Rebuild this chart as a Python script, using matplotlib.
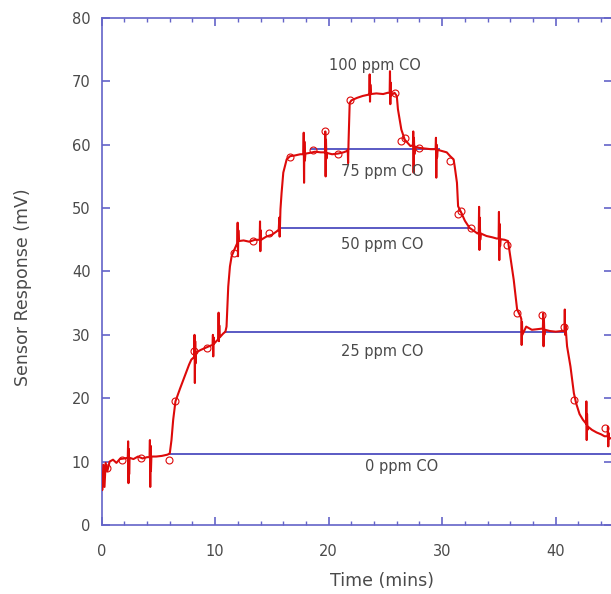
import matplotlib
matplotlib.use("Agg")
import matplotlib.pyplot as plt
from matplotlib.ticker import MultipleLocator

# sensor trace (time in minutes, response in mV)
trace_t = [
    0.0, 0.05, 0.15, 0.25, 0.35, 0.5, 0.7, 1.0, 1.3, 1.6, 2.0,
    2.30, 2.33, 2.36, 2.39, 2.42, 2.46, 2.8, 3.2, 3.6, 4.0,
    4.22, 4.25, 4.28, 4.31, 4.34, 4.38, 4.8, 5.3, 5.8, 6.0,
    6.15, 6.3, 6.5, 6.9, 7.3, 7.7, 7.9,
    8.15, 8.18, 8.21, 8.24, 8.27, 8.3, 8.7, 9.2, 9.6,
    9.77, 9.8, 9.83, 9.86, 9.9, 10.1,
    10.27, 10.3, 10.33, 10.36, 10.4, 10.7, 10.9,
    11.0, 11.15, 11.3, 11.45, 11.75,
    11.95, 11.98, 12.01, 12.04, 12.08, 12.5, 13.0, 13.5,
    13.92, 13.95, 13.98, 14.01, 14.05, 14.5, 15.0, 15.4,
    15.6, 15.65, 15.68, 15.75, 15.85, 16.0, 16.3, 16.6,
    17.0, 17.5, 17.77, 17.8, 17.83, 17.86, 17.9, 17.95, 18.3, 18.8, 19.3,
    19.67, 19.7, 19.73, 19.76, 19.8, 19.85, 20.3, 20.8, 21.3, 21.6,
    21.68, 21.71, 21.75, 21.85, 22.0, 22.5, 23.0, 23.5,
    23.58, 23.61, 23.64, 23.67, 23.72, 24.2, 24.8, 25.2,
    25.37, 25.4, 25.43, 25.46, 25.5, 25.8, 26.0,
    26.1, 26.4, 26.7, 27.2,
    27.42, 27.45, 27.48, 27.51, 27.55, 27.6, 28.0, 28.5, 29.0,
    29.42, 29.45, 29.48, 29.51, 29.55, 29.6, 30.0, 30.4, 30.7, 31.0,
    31.1, 31.3, 31.4, 31.7, 32.0, 32.4, 32.8, 33.1,
    33.22, 33.25, 33.28, 33.31, 33.35, 33.4, 33.9, 34.4, 34.8,
    34.97, 35.0, 35.03, 35.06, 35.1, 35.15, 35.5, 35.8,
    36.0, 36.3, 36.6, 36.9,
    36.97, 37.0, 37.03, 37.06, 37.4, 37.9, 38.4,
    38.87, 38.9, 38.93, 38.96, 39.0, 39.05, 39.5, 40.0, 40.5,
    40.77, 40.8, 40.83, 40.86,
    41.0, 41.3, 41.6, 41.8, 42.1, 42.4,
    42.67, 42.7, 42.73, 42.76, 42.8, 42.85, 43.2, 43.6, 44.0, 44.3,
    44.57, 44.6, 44.63, 44.66, 44.7, 45.0,
]
trace_mv = [
    8.0, 5.5, 9.5, 6.0, 9.8, 8.5, 10.0, 10.3, 9.8, 10.4, 10.5,
    10.6, 13.2, 6.6, 12.0, 8.0, 10.6, 10.4, 10.8, 10.5, 10.7,
    10.7, 13.4, 6.0, 12.5, 8.5, 10.8, 10.8, 10.9, 11.1, 11.3,
    13.4, 16.6, 19.5, 21.5, 23.4, 25.3, 26.1,
    26.5, 30.0, 22.4, 29.0, 25.5, 27.2, 27.6, 28.0, 28.3,
    28.4, 30.0, 26.6, 29.6, 28.6, 29.0,
    29.3, 33.5, 29.0, 31.5, 29.6, 30.2, 30.5,
    31.3, 37.6, 40.8, 42.4, 43.7,
    44.5, 47.7, 42.4, 46.5, 44.8, 44.9, 44.7, 45.0,
    45.0, 47.9, 43.2, 46.5, 45.0, 45.5, 45.8, 46.3,
    46.6, 48.5, 45.5, 49.8, 52.4, 55.6, 57.7, 58.2,
    58.3, 58.5, 58.5, 61.9, 54.0, 60.5, 57.5, 58.6, 58.7, 58.9, 58.8,
    58.8, 62.1, 55.0, 60.8, 57.8, 58.7, 58.5, 58.6, 58.8, 59.0,
    59.2, 57.1, 60.5, 66.6, 67.0, 67.4, 67.7, 67.9,
    68.0, 71.1, 66.8, 69.5, 68.0, 68.1, 68.0, 68.2,
    68.2, 71.6, 66.4, 69.8, 67.8, 68.2, 67.7,
    65.6, 62.4, 60.8, 59.8,
    59.9, 62.1, 55.6, 61.1, 58.5, 59.7, 59.5, 59.4, 59.3,
    59.3, 61.1, 54.8, 60.0, 58.0, 59.2, 59.0, 58.8, 58.2, 57.7,
    56.6, 54.0, 50.3, 49.2, 48.0, 46.9, 46.4, 46.0,
    46.0, 50.2, 43.4, 48.5, 45.0, 46.0, 45.6, 45.4, 45.2,
    45.2, 49.4, 41.8, 47.5, 44.0, 45.1, 45.0, 44.8,
    42.4, 38.7, 34.0, 32.9,
    32.5, 28.4, 32.0, 30.0, 31.3, 30.8, 30.9,
    31.0, 33.4, 28.2, 32.5, 30.0, 30.8, 30.6, 30.5, 30.6,
    30.6, 34.0, 30.0, 31.5,
    28.2, 25.0, 20.8, 19.2, 17.5, 16.6,
    16.0, 19.5, 13.4, 17.5, 15.0, 15.5, 15.0, 14.6, 14.3, 14.0,
    14.0, 15.5, 12.4, 14.5, 13.6, 13.8,
]

# open-circle sample markers on the trace
marker_t = [0.5, 1.8, 3.5, 5.9, 6.5, 8.1, 9.3, 11.7, 13.3, 14.7, 16.6, 18.6,
            19.7, 20.8, 21.9, 25.8, 26.4, 26.7, 28.0, 30.7, 31.4, 31.7, 32.5,
            35.7, 36.6, 38.8, 40.7, 41.6, 44.3]
marker_mv = [9.0, 10.2, 10.6, 10.3, 19.5, 27.4, 27.9, 42.9, 44.8, 46.1, 58.1, 59.2,
             62.1, 58.5, 67.0, 68.2, 60.6, 61.1, 59.5, 57.4, 49.0, 49.5, 46.9,
             44.2, 33.4, 33.2, 31.3, 19.7, 15.3]

# CO concentration reference levels
level_labels = ["0 ppm CO", "25 ppm CO", "50 ppm CO", "75 ppm CO", "100 ppm CO"]
level_mv = [11.2, 30.5, 46.9, 59.3, None]
level_start = [5.9, 10.9, 15.7, 18.4, None]
level_end = [45.0, 40.6, 32.4, 29.7, None]
label_x = [26.4, 24.7, 24.7, 24.7, 24.1]
label_y = [9.2, 27.4, 44.2, 55.8, 72.5]

AXIS_COLOR = "#6464c8"
LEVEL_COLOR = "#5a5ac4"
TEXT_COLOR = "#4a4a4a"
TRACE_COLOR = "#dd0a0a"

fig = plt.figure(figsize=(6.11, 5.94), dpi=100)
ax = fig.add_axes([0.1664, 0.1162, 0.836, 0.8535])

for mv, x0, x1 in zip(level_mv, level_start, level_end):
    if mv is None:
        continue
    ax.plot([x0, x1], [mv, mv], color=LEVEL_COLOR, linewidth=1.4, zorder=2)

ax.plot(trace_t, trace_mv, color=TRACE_COLOR, linewidth=1.5, zorder=3)
ax.plot(marker_t, marker_mv, linestyle="none", marker="o", markersize=5,
        markerfacecolor="none", markeredgecolor=TRACE_COLOR,
        markeredgewidth=0.8, zorder=4)

for text, x, y in zip(level_labels, label_x, label_y):
    ax.text(x, y, text, ha="center", va="center", fontsize=10.5,
            color=TEXT_COLOR, zorder=5)

ax.set_xlim(0, 45)
ax.set_ylim(0, 80)
ax.xaxis.set_major_locator(MultipleLocator(10))
ax.xaxis.set_minor_locator(MultipleLocator(2))
ax.yaxis.set_major_locator(MultipleLocator(10))

for spine in ax.spines.values():
    spine.set_color(AXIS_COLOR)
    spine.set_linewidth(1.2)

ax.tick_params(axis="both", which="both", direction="in", colors=AXIS_COLOR,
               top=True, right=True, labelcolor=TEXT_COLOR)
ax.tick_params(axis="both", which="major", length=6, width=1.2, labelsize=10.5)
ax.tick_params(axis="x", which="minor", length=3, width=1.0)
ax.tick_params(axis="x", which="major", pad=14)
ax.tick_params(axis="y", which="major", pad=8)

ax.set_xlabel("Time (mins)", fontsize=12.5, color=TEXT_COLOR)
ax.set_ylabel("Sensor Response (mV)", fontsize=12.5, color=TEXT_COLOR)
ax.xaxis.set_label_coords(0.548, -0.092)
ax.yaxis.set_label_coords(-0.136, 0.47)

fig.savefig("out.png", dpi=100)
